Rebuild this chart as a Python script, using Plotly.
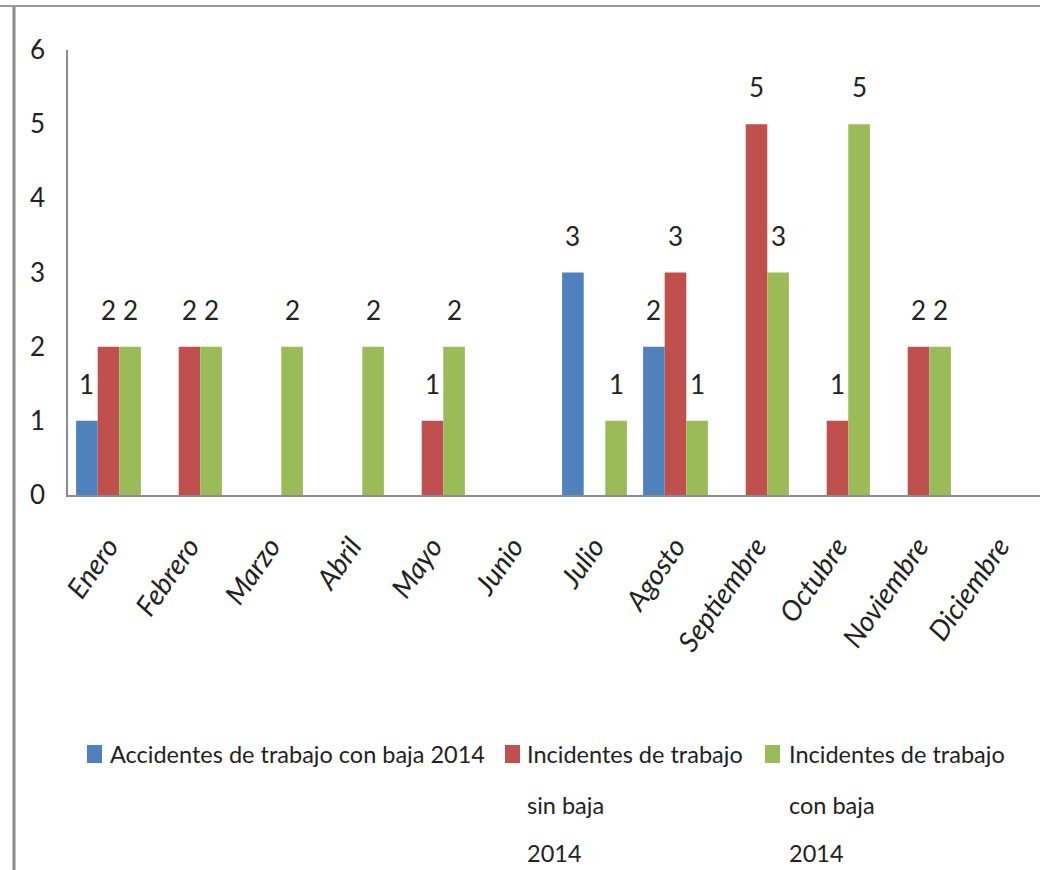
import plotly.graph_objects as go

# Monthly counts for 2014 (blank months have no events recorded)
meses = ["Enero", "Febrero", "Marzo", "Abril", "Mayo", "Junio", "Julio",
         "Agosto", "Septiembre", "Octubre", "Noviembre", "Diciembre"]
accidentes_con_baja = [1, None, None, None, None, None, 3, 2, None, None, None, None]
incidentes_sin_baja = [2, 2, None, None, 1, None, None, 3, 5, 1, 2, None]
incidentes_con_baja = [2, 2, 2, 2, 2, None, 1, 1, 3, 5, 2, None]
y_ticks = [0, 1, 2, 3, 4, 5, 6]

series_names = ["Accidentes de trabajo con baja 2014",
                "Incidentes de trabajo sin baja 2014",
                "Incidentes de trabajo con baja 2014"]
legend_lines = [["Accidentes de trabajo con baja 2014"],
                ["Incidentes de trabajo", "sin baja", "2014"],
                ["Incidentes de trabajo", "con baja", "2014"]]
series_values = [accidentes_con_baja, incidentes_sin_baja, incidentes_con_baja]
colors = ["#4F81BD", "#C0504D", "#9BBB59"]

FONT = "Lato, Liberation Sans, sans-serif"
TEXT = "#222222"
AXIS = "#8c8c8c"

W, H = 1040, 870
L, R, T, B = 68, 0, 50, 375
PW, PH = W - L - R, H - T - B


def px(x):
    return (x - L) / PW


def py(y):
    return (H - B - y) / PH


BARGAP = 0.2
bar_w = (1 - BARGAP) / 3

fig = go.Figure()
for name, vals, col in zip(series_names, series_values, colors):
    fig.add_trace(go.Bar(
        x=meses, y=vals, name=name,
        marker=dict(color=col, line=dict(width=0)),
        showlegend=False, hoverinfo="x+y+name",
    ))

annotations = []
# value labels above each bar
for k, vals in enumerate(series_values):
    for i, v in enumerate(vals):
        if v:
            annotations.append(dict(
                x=i + (k - 1) * bar_w, y=v, xref="x", yref="y",
                text=str(v), showarrow=False, yshift=37,
                xanchor="center", yanchor="middle",
                font=dict(family=FONT, size=26, color=TEXT),
            ))

# legend: coloured squares with wrapped captions
legend_x = [(87, 108), (505, 525), (765, 787)]
line_y = [754, 805, 853]
shapes = []
for (sx, tx), lines, col in zip(legend_x, legend_lines, colors):
    shapes.append(dict(type="rect", xref="paper", yref="paper",
                       x0=px(sx), x1=px(sx + 15), y0=py(745), y1=py(763),
                       fillcolor=col, line=dict(width=0)))
    for j, line in enumerate(lines):
        annotations.append(dict(
            x=px(tx), y=py(line_y[j]), xref="paper", yref="paper",
            text=line, showarrow=False, xanchor="left", yanchor="middle",
            font=dict(family=FONT, size=23.5, color=TEXT),
        ))

# outer frame lines
shapes.append(dict(type="line", xref="paper", yref="paper",
                   x0=px(14), x1=px(14), y0=py(6), y1=py(H + 5),
                   line=dict(color="#8a8a8a", width=3)))
shapes.append(dict(type="line", xref="paper", yref="paper",
                   x0=px(-5), x1=px(W + 5), y0=py(6), y1=py(6),
                   line=dict(color="#9a9a9a", width=2)))

fig.update_layout(
    width=W, height=H, autosize=False,
    margin=dict(l=L, r=R, t=T, b=B, pad=0),
    paper_bgcolor="white", plot_bgcolor="white",
    barmode="group", bargap=BARGAP, bargroupgap=0,
    font=dict(family=FONT, color=TEXT),
    annotations=annotations, shapes=shapes,
    xaxis=dict(
        showline=True, linecolor=AXIS, linewidth=1.5, showgrid=False,
        zeroline=False, ticks="", tickangle=-55, ticklabelstandoff=22,
        tickfont=dict(family=FONT, size=28, style="italic", color=TEXT),
    ),
    yaxis=dict(
        range=[0, 6], tickvals=y_ticks, showline=True, linecolor=AXIS,
        linewidth=1.5, showgrid=False, zeroline=False, ticks="",
        ticklabelstandoff=16,
        tickfont=dict(family=FONT, size=26, color=TEXT),
    ),
)

fig.write_html("out.html")
